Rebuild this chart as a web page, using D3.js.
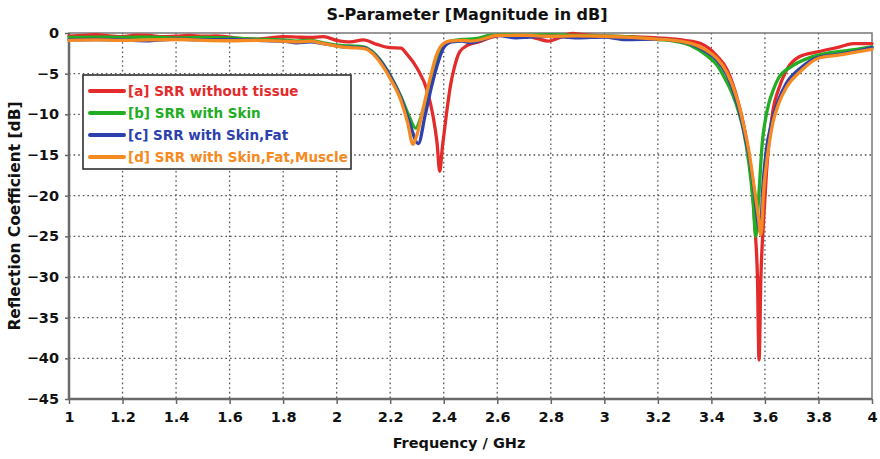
<!DOCTYPE html>
<html><head><meta charset="utf-8">
<script src="https://cdn.jsdelivr.net/npm/d3@7"></script>
<style>body{margin:0;background:#fff}svg{display:block}text{font-family:"DejaVu Sans",Verdana,sans-serif;font-weight:bold}</style>
</head><body><svg id="c" width="880" height="459"></svg>
<script>
const xTicks = [1,1.2,1.4,1.6,1.8,2,2.2,2.4,2.6,2.8,3,3.2,3.4,3.6,3.8,4];
const yTicks = [0,-5,-10,-15,-20,-25,-30,-35,-40,-45];
const seriesNames = ["[a] SRR without tissue","[b] SRR with Skin","[c] SRR with Skin,Fat","[d] SRR with Skin,Fat,Muscle"];
const seriesColors = ["#e42b2b","#22ad22","#2c41ad","#f68a22"];
// [frequency GHz, dB]
const dataA = [[1.00,-0.4],[1.05,-0.3],[1.10,-0.2],[1.15,-0.35],[1.20,-0.45],[1.25,-0.25],[1.30,-0.3],[1.35,-0.45],[1.40,-0.4],[1.45,-0.3],[1.50,-0.4],[1.55,-0.35],[1.60,-0.5],[1.65,-0.7],[1.70,-0.75],[1.75,-0.6],[1.80,-0.45],[1.85,-0.5],[1.90,-0.55],[1.95,-0.45],[2.00,-0.9],[2.05,-1.1],[2.10,-0.85],[2.15,-1.4],[2.20,-1.8],[2.24,-1.85],[2.26,-2.5],[2.30,-4.3],[2.34,-7.3],[2.36,-10.2],[2.375,-13.5],[2.385,-17.0],[2.395,-14],[2.41,-10],[2.425,-6.5],[2.44,-4.2],[2.46,-2.3],[2.49,-1.5],[2.53,-1.1],[2.58,-0.5],[2.62,-0.3],[2.70,-0.3],[2.75,-0.7],[2.79,-1.0],[2.83,-0.6],[2.88,-0.05],[2.92,-0.2],[3.00,-0.35],[3.10,-0.45],[3.20,-0.6],[3.30,-0.9],[3.36,-1.3],[3.42,-2.8],[3.46,-4.6],[3.50,-8.5],[3.53,-13.0],[3.55,-18],[3.565,-25],[3.572,-30],[3.578,-40.2],[3.585,-30],[3.595,-23],[3.606,-17],[3.63,-9.5],[3.65,-7],[3.68,-4.6],[3.73,-2.9],[3.80,-2.3],[3.88,-1.7],[3.93,-1.3],[4.00,-1.3]];
const dataB = [[1.00,-0.55],[1.10,-0.5],[1.20,-0.55],[1.30,-0.5],[1.40,-0.6],[1.50,-0.55],[1.60,-0.6],[1.70,-0.75],[1.80,-0.85],[1.85,-1.0],[1.90,-0.9],[1.95,-1.2],[2.00,-1.5],[2.05,-1.6],[2.10,-1.7],[2.13,-2.2],[2.16,-3.2],[2.20,-5.2],[2.24,-7.8],[2.27,-10.2],[2.295,-11.7],[2.32,-9.8],[2.35,-6.2],[2.375,-3.4],[2.40,-1.6],[2.425,-1.0],[2.47,-0.8],[2.52,-0.7],[2.57,-0.3],[2.62,-0.2],[2.70,-0.25],[2.80,-0.2],[2.90,-0.3],[3.00,-0.35],[3.10,-0.5],[3.20,-0.8],[3.26,-1.0],[3.32,-1.5],[3.38,-2.7],[3.42,-3.9],[3.457,-6.0],[3.48,-7.6],[3.50,-9.5],[3.52,-12.0],[3.54,-16.0],[3.555,-20.5],[3.566,-25.0],[3.575,-21],[3.58,-18.5],[3.59,-13.5],[3.60,-11],[3.615,-8.6],[3.63,-7.1],[3.65,-5.6],[3.70,-4.1],[3.77,-3.0],[3.83,-2.5],[3.90,-2.2],[4.00,-1.7]];
const dataC = [[1.00,-0.85],[1.10,-0.8],[1.20,-0.85],[1.30,-0.95],[1.40,-0.75],[1.50,-0.85],[1.60,-0.8],[1.70,-0.9],[1.80,-1.0],[1.85,-1.2],[1.90,-1.1],[1.95,-1.3],[2.00,-1.6],[2.05,-1.75],[2.10,-1.8],[2.13,-2.3],[2.16,-3.3],[2.20,-5.3],[2.24,-8.0],[2.27,-10.8],[2.305,-13.6],[2.33,-10.2],[2.355,-6.5],[2.38,-3.5],[2.40,-1.8],[2.43,-1.1],[2.47,-1.0],[2.50,-1.2],[2.54,-0.9],[2.57,-0.5],[2.60,-0.3],[2.67,-0.6],[2.72,-0.5],[2.80,-0.4],[2.90,-0.6],[3.00,-0.5],[3.08,-0.8],[3.20,-0.75],[3.26,-0.9],[3.32,-1.3],[3.38,-2.3],[3.42,-3.3],[3.457,-5.1],[3.495,-8.5],[3.52,-11.8],[3.54,-15],[3.56,-19.5],[3.575,-23.5],[3.583,-24.5],[3.592,-19],[3.605,-14.5],[3.625,-11],[3.65,-8.3],[3.68,-6.2],[3.73,-4.4],[3.80,-3.0],[3.88,-2.6],[3.95,-2.2],[4.00,-1.8]];
const dataD = [[1.00,-0.9],[1.10,-0.85],[1.20,-0.9],[1.30,-0.85],[1.40,-0.8],[1.50,-0.9],[1.60,-0.95],[1.70,-0.9],[1.80,-1.0],[1.85,-1.1],[1.90,-1.0],[1.95,-1.3],[2.00,-1.6],[2.05,-1.8],[2.10,-1.9],[2.13,-2.4],[2.16,-3.5],[2.20,-5.6],[2.24,-8.3],[2.265,-11],[2.285,-13.7],[2.30,-12.5],[2.325,-9.0],[2.35,-5.5],[2.37,-3.0],[2.39,-1.6],[2.42,-1.0],[2.47,-0.9],[2.50,-1.0],[2.54,-0.8],[2.57,-0.5],[2.60,-0.3],[2.70,-0.3],[2.80,-0.4],[2.90,-0.35],[3.00,-0.4],[3.10,-0.55],[3.20,-0.75],[3.26,-0.9],[3.32,-1.25],[3.38,-2.1],[3.42,-3.1],[3.457,-4.8],[3.495,-8.0],[3.52,-11.3],[3.54,-14.5],[3.56,-19],[3.575,-22.5],[3.585,-24.8],[3.595,-19.5],[3.61,-15],[3.63,-11],[3.65,-8.8],[3.68,-6.7],[3.73,-4.8],[3.80,-3.1],[3.88,-2.7],[3.95,-2.3],[4.00,-2.0]];
const allData = [dataA,dataB,dataC,dataD];

const svg = d3.select("#c");
const m = {l:69, t:33, r:8, b:60};
const W = 880, H = 459;
const x = d3.scaleLinear().domain([1,4]).range([m.l, W-m.r]);
const y = d3.scaleLinear().domain([-45,0]).range([H-m.b, m.t]);

// grid
const g = svg.append("g");
g.selectAll(".gx").data(xTicks.slice(1,-1)).join("line")
  .attr("x1",d=>x(d)).attr("x2",d=>x(d)).attr("y1",y(0)).attr("y2",y(-45))
  .attr("stroke","#555").attr("stroke-width",1.3).attr("stroke-dasharray","1.6,3");
g.selectAll(".gy").data(yTicks.slice(1,-1)).join("line")
  .attr("y1",d=>y(d)).attr("y2",d=>y(d)).attr("x1",x(1)).attr("x2",x(4))
  .attr("stroke","#555").attr("stroke-width",1.3).attr("stroke-dasharray","1.6,3");

// frame
svg.append("rect").attr("x",x(1)).attr("y",y(0)).attr("width",x(4)-x(1)).attr("height",y(-45)-y(0))
  .attr("fill","none").attr("stroke","#777").attr("stroke-width",1.5);
svg.append("line").attr("x1",x(1)).attr("x2",x(1)).attr("y1",y(0)).attr("y2",y(-45)).attr("stroke","#6a6a6a").attr("stroke-width",2.5);
svg.append("line").attr("x1",x(1)).attr("x2",x(4)).attr("y1",y(-45)).attr("y2",y(-45)).attr("stroke","#6a6a6a").attr("stroke-width",2.5);

// axes
const xa = svg.append("g").attr("transform",`translate(0,${y(-45)})`)
  .call(d3.axisBottom(x).tickValues(xTicks).tickFormat(d=>d3.format("")(+d.toFixed(1))).tickSize(5).tickPadding(8));
xa.select(".domain").remove();
xa.selectAll("line").attr("stroke","#666").attr("stroke-width",1.5);
xa.selectAll("text").attr("font-size",14.5).attr("fill","#111").style("font-family","'DejaVu Sans',Verdana,sans-serif").style("font-weight","bold");
const ya = svg.append("g").attr("transform",`translate(${x(1)},0)`)
  .call(d3.axisLeft(y).tickValues(yTicks).tickSize(4).tickPadding(6));
ya.select(".domain").remove();
ya.selectAll("line").attr("stroke","#666").attr("stroke-width",1.5);
ya.selectAll("text").attr("font-size",14.5).attr("fill","#111").style("font-family","'DejaVu Sans',Verdana,sans-serif").style("font-weight","bold");

// lines
const line = d3.line().x(d=>x(d[0])).y(d=>y(d[1])).curve(d3.curveMonotoneX);
svg.append("g").selectAll("path").data(allData).join("path")
  .attr("d",line).attr("fill","none")
  .attr("stroke",(d,i)=>seriesColors[i]).attr("stroke-width",3.3)
  .attr("stroke-linejoin","round").attr("stroke-linecap","round");

// titles
svg.append("text").attr("x",467).attr("y",20).attr("text-anchor","middle").attr("font-size",16).attr("fill","#111").text("S-Parameter [Magnitude in dB]");
svg.append("text").attr("x",459).attr("y",448).attr("text-anchor","middle").attr("font-size",14.5).attr("fill","#111").text("Frequency / GHz");
svg.append("text").attr("transform","translate(20,216) rotate(-90)").attr("text-anchor","middle").attr("font-size",15.5).attr("fill","#111").text("Reflection Coefficient [dB]");

// legend
const lg = svg.append("g");
lg.append("rect").attr("x",83).attr("y",75).attr("width",268).attr("height",94).attr("fill","#fff").attr("stroke","#222").attr("stroke-width",1.5);
const rows = lg.selectAll("g.r").data(seriesNames).join("g").attr("transform",(d,i)=>`translate(0,${91+i*22})`);
rows.append("line").attr("x1",90).attr("x2",124).attr("stroke",(d,i)=>seriesColors[i]).attr("stroke-width",4).attr("stroke-linecap","round");
rows.append("text").attr("x",128).attr("y",5).attr("font-size",13.5).attr("fill",(d,i)=>seriesColors[i]).text(d=>d);
</script></body></html>
